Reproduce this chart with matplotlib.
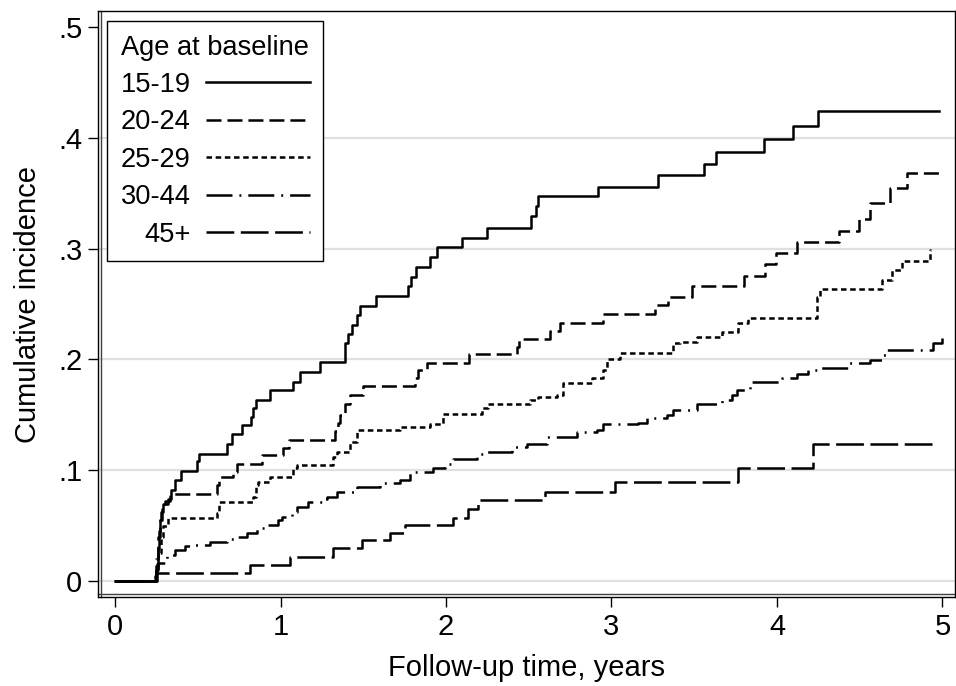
import matplotlib
matplotlib.use("Agg")
import matplotlib.pyplot as plt

plt.rcParams['font.family'] = ['Liberation Sans', 'DejaVu Sans']
plt.rcParams['lines.scale_dashes'] = False

# cumulative incidence step curves (time in years)
t_1519 = [0, 0.252, 0.258, 0.265, 0.272, 0.28, 0.29, 0.318, 0.338, 0.363, 0.399,
          0.494, 0.51, 0.675, 0.709, 0.765, 0.822, 0.836, 0.852, 0.937, 1.077,
          1.118, 1.239, 1.39, 1.405, 1.43, 1.46, 1.48, 1.575, 1.772, 1.787,
          1.819, 1.903, 1.944, 2.095, 2.246, 2.514, 2.544, 2.554, 2.917, 3.283,
          3.559, 3.63, 3.92, 4.095, 4.25, 4.979]
ci_1519 = [0, 0.015, 0.03, 0.045, 0.055, 0.062, 0.0695, 0.0737, 0.082, 0.091, 0.099,
           0.108, 0.115, 0.124, 0.133, 0.141, 0.148, 0.156, 0.163, 0.172, 0.180,
           0.189, 0.198, 0.2145, 0.223, 0.231, 0.240, 0.248, 0.2575, 0.266, 0.2747,
           0.2837, 0.2927, 0.301, 0.310, 0.319, 0.329, 0.338, 0.347, 0.356, 0.366,
           0.376, 0.387, 0.399, 0.411, 0.424, 0.424]

t_2024 = [0, 0.245, 0.26, 0.27, 0.285, 0.30, 0.33, 0.615, 0.63, 0.715, 0.74,
          0.886, 1.017, 1.05, 1.329, 1.345, 1.36, 1.39, 1.42, 1.5, 1.813, 1.833,
          1.883, 2.141, 2.427, 2.44, 2.628, 2.689, 2.95, 3.263, 3.343, 3.485,
          3.8, 3.927, 3.994, 4.123, 4.375, 4.495, 4.562, 4.683, 4.787, 4.999]
ci_2024 = [0, 0.02, 0.04, 0.055, 0.066, 0.072, 0.079, 0.0866, 0.094, 0.0986, 0.106,
           0.1137, 0.120, 0.127, 0.135, 0.143, 0.150, 0.160, 0.168, 0.176, 0.183, 0.190,
           0.197, 0.2046, 0.2115, 0.218, 0.226, 0.233, 0.241, 0.249, 0.2566, 0.266,
           0.2756, 0.286, 0.2957, 0.3056, 0.316, 0.327, 0.341, 0.3544, 0.368, 0.368]

t_2529 = [0, 0.25, 0.26, 0.275, 0.29, 0.322, 0.615, 0.63, 0.836, 0.85, 0.866,
          0.937, 1.077, 1.10, 1.319, 1.34, 1.42, 1.46, 1.722, 1.903, 1.984, 2.216,
          2.256, 2.508, 2.558, 2.669, 2.709, 2.88, 2.95, 2.971, 3.051, 3.373, 3.414,
          3.515, 3.666, 3.767, 3.827, 4.24, 4.26, 4.633, 4.693, 4.753, 4.924, 4.93]
ci_2529 = [0, 0.01, 0.025, 0.04, 0.05, 0.0566, 0.061, 0.0716, 0.076, 0.0866, 0.0896,
           0.094, 0.1017, 0.1047, 0.112, 0.1167, 0.1257, 0.136, 0.139, 0.142, 0.151, 0.156,
           0.1594, 0.163, 0.166, 0.168, 0.179, 0.183, 0.190, 0.200, 0.2055, 0.2145, 0.216,
           0.2205, 0.225, 0.2325, 0.237, 0.2566, 0.2635, 0.2717, 0.2807, 0.289, 0.2987, 0.2987]

t_3044 = [0, 0.24, 0.25, 0.262, 0.312, 0.363, 0.423, 0.473, 0.574, 0.675, 0.725,
          0.796, 0.856, 0.917, 0.987, 1.007, 1.068, 1.098, 1.168, 1.249, 1.279,
          1.34, 1.46, 1.601, 1.722, 1.782, 1.923, 1.994, 2.044, 2.185, 2.226,
          2.397, 2.488, 2.608, 2.79, 2.91, 2.95, 3.162, 3.213, 3.333, 3.373,
          3.515, 3.666, 3.726, 3.76, 3.837, 4.028, 4.119, 4.189, 4.24, 4.431,
          4.562, 4.633, 4.663, 4.945, 4.995, 5.0]
ci_3044 = [0, 0.005, 0.01, 0.016, 0.0235, 0.028, 0.0316, 0.0325, 0.0355, 0.0376, 0.0394,
           0.043, 0.0475, 0.0505, 0.055, 0.058, 0.0625, 0.067, 0.0716, 0.0737, 0.076,
           0.0806, 0.0846, 0.0882, 0.091, 0.0986, 0.1017, 0.106, 0.1098, 0.115, 0.1167,
           0.121, 0.124, 0.130, 0.1347, 0.136, 0.1417, 0.143, 0.147, 0.150, 0.1543,
           0.1595, 0.163, 0.168, 0.1724, 0.180, 0.183, 0.187, 0.190, 0.192, 0.1965,
           0.1995, 0.204, 0.2085, 0.2145, 0.219, 0.219]

t_45 = [0, 0.245, 0.816, 1.057, 1.319, 1.49, 1.662, 1.752, 2.044, 2.135, 2.195,
        2.598, 3.021, 3.766, 4.22, 4.955]
ci_45 = [0, 0.007, 0.0144, 0.0214, 0.0295, 0.037, 0.043, 0.0505, 0.0566, 0.0647, 0.073,
         0.0806, 0.0896, 0.1023, 0.1236, 0.1236]

labels = ["15-19", "20-24", "25-29", "30-44", "45+"]
x_ticks = [0, 1, 2, 3, 4, 5]
y_ticks = [0, 0.1, 0.2, 0.3, 0.4, 0.5]
y_ticklabels = ["0", ".1", ".2", ".3", ".4", ".5"]

fig = plt.figure(figsize=(9.56, 6.86), dpi=100)
ax = fig.add_axes([0.1025, 0.1297, 0.8965, 0.8543])

# light horizontal grid (none at the top tick)
for g in y_ticks[:-1]:
    ax.axhline(g, color="#e0e0e0", lw=1.6, zorder=0)

styles = [
    dict(linestyle="-"),
    dict(linestyle=(0, (10.8, 4.3))),
    dict(linestyle=(0, (4.0, 2.6))),
    dict(linestyle=(0, (18.7, 5.0, 1.4, 5.0))),
    dict(linestyle=(0, (20.0, 4.7))),
]
series = [(t_1519, ci_1519), (t_2024, ci_2024), (t_2529, ci_2529),
          (t_3044, ci_3044), (t_45, ci_45)]

handles = [None] * 5
for i in range(4, -1, -1):
    t, c = series[i]
    h, = ax.plot(t, c, drawstyle="steps-post", color="black", lw=1.8,
                 label=labels[i], zorder=3 + (5 - i), **styles[i])
    handles[i] = h

ax.set_xlim(-0.103, 5.076)
ax.set_ylim(-0.0144, 0.5144)
ax.set_xticks(x_ticks)
ax.set_xticklabels([str(v) for v in x_ticks])
ax.set_yticks(y_ticks)
ax.set_yticklabels(y_ticklabels)
ax.tick_params(axis="both", direction="out", length=7.2, width=1.0,
               labelsize=21, pad=4, colors="black")

for s in ax.spines.values():
    s.set_linewidth(1.0)
    s.set_color("black")
# inner axis lines (double line look)
ax.plot([0, 1], [0.006, 0.006], transform=ax.transAxes, color="#404040",
        lw=1.0, clip_on=False, zorder=2)
ax.plot([0.003, 0.003], [0, 1], transform=ax.transAxes, color="#404040",
        lw=1.0, clip_on=False, zorder=2)

ax.set_xlabel("Follow-up time, years", fontsize=21, labelpad=10)
ax.set_ylabel("Cumulative incidence", fontsize=21, labelpad=12)

leg = ax.legend(handles=handles, labels=labels, title="Age at baseline",
                loc="upper left", bbox_to_anchor=(0.0105, 0.983),
                borderaxespad=0, markerfirst=False, fontsize=19.6,
                title_fontsize=19.6, frameon=True, fancybox=False,
                edgecolor="black", framealpha=1, handlelength=3.82,
                handletextpad=0.55, labelspacing=0.42, borderpad=0.5)
leg.get_frame().set_linewidth(1.0)
leg.set_zorder(10)

fig.savefig("out.png", dpi=100)
